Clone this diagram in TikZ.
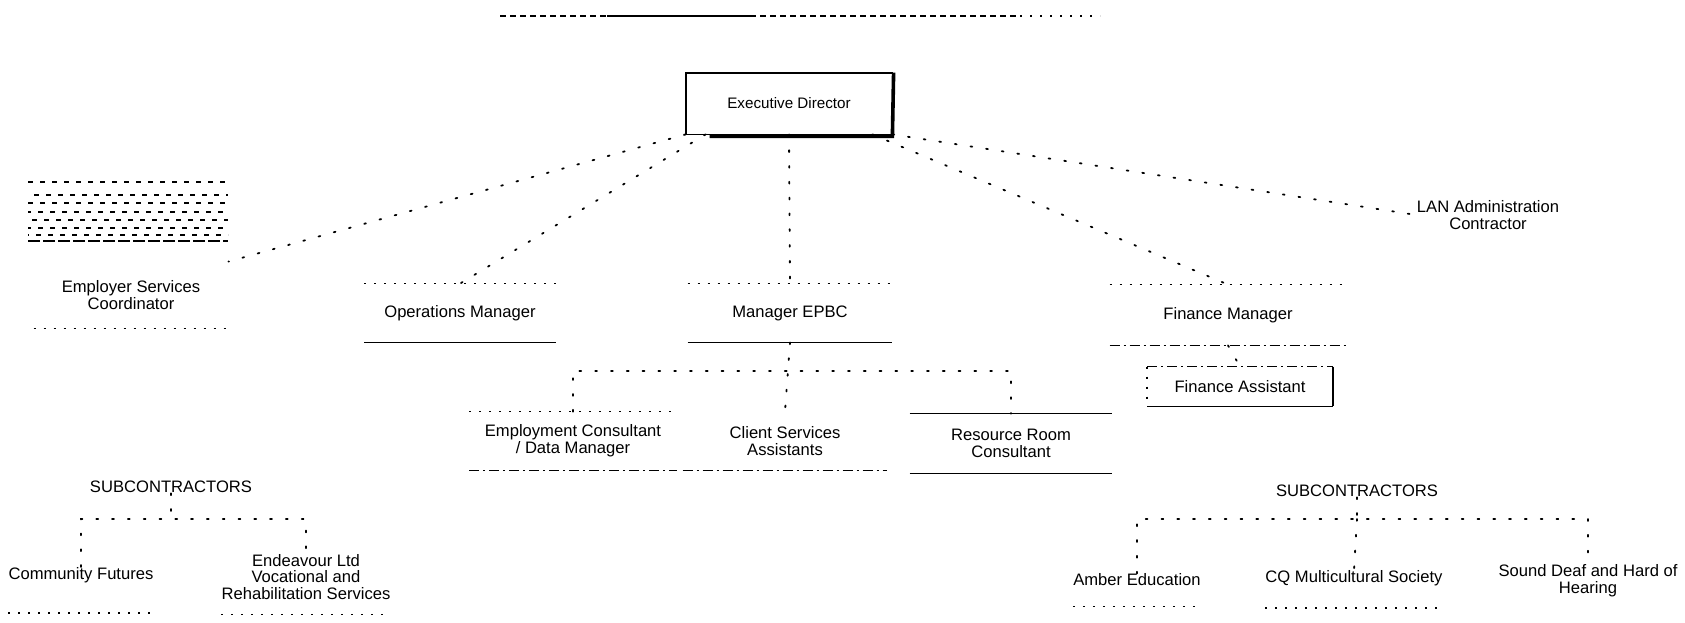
\documentclass[tikz,border=0pt]{standalone}
\usepackage{fontspec}
\setmainfont{Liberation Sans}
\begin{document}
\begin{tikzpicture}[x=0.5pt,y=-0.5pt,
  lbl/.style={font=\fontsize{8.3}{8.4}\selectfont, align=center, inner sep=0pt},
  conn/.style={line width=0.9pt, dash pattern=on 0.9pt off 7pt, line cap=round},
  dotrule/.style={line width=0.8pt, dash pattern=on 1pt off 4pt},
  dashrule/.style={line width=0.7pt, dash pattern=on 5pt off 2pt on 1pt off 2pt},
  rule/.style={line width=0.7pt}
]
\useasboundingbox (0,0) rectangle (1685,622);

% title remnant
\draw[line width=0.8pt, dash pattern=on 3pt off 2pt] (500,16) -- (1020,16);
\draw[line width=0.9pt] (607,16) -- (751,16);
\draw[dotrule] (1020,16) -- (1100,16);

% top-left garbled note block
\foreach \yy/\ph in {182/0,195/3,203/6,212/1,220/4,228/7,235/2}
  \draw[line width=0.9pt, dash pattern=on 2.5pt off 3.5pt, dash phase=\ph pt] (28,\yy) -- (228,\yy);
\draw[line width=1.1pt, dash pattern=on 6pt off 1.5pt] (28,241) -- (228,241);

% nodes
\node[lbl, font=\fontsize{7.6}{8}\selectfont, minimum width=103pt, minimum height=30.5pt] (exec) at (789,103.5) {Executive Director};
\node[lbl, minimum width=97pt, minimum height=33pt] (emps) at (131,295) {Employer Services\\Coordinator};
\node[lbl, minimum width=95.5pt, minimum height=29pt] (ops) at (460,313) {Operations Manager};
\node[lbl, minimum width=102pt, minimum height=29pt] (epbc) at (790,313) {Manager EPBC};
\node[lbl, minimum width=118pt, minimum height=30pt] (finman) at (1228,315) {Finance Manager};
\node[lbl, minimum width=92.5pt, minimum height=19.5pt] (finasst) at (1240,386.5) {Finance Assistant};
\node[lbl] (lan) at (1488,215) {LAN Administration\\Contractor};
\node[lbl, minimum width=103.5pt, minimum height=29pt] (empcons) at (573,441) {Employment Consultant\\/ Data Manager};
\node[lbl, minimum width=102pt, minimum height=29pt] (client) at (785,441) {Client Services\\Assistants};
\node[lbl, minimum width=101pt, minimum height=29.5pt] (resroom) at (1011,443.5) {Resource Room\\Consultant};
\node[lbl] (subl) at (171,487) {SUBCONTRACTORS};
\node[lbl] (subr) at (1357,491) {SUBCONTRACTORS};
\node[lbl] (commfut) at (81,575) {Community Futures};
\node[lbl] (voc) at (306,577) {Endeavour Ltd\\Vocational and\\Rehabilitation Services};
\node[lbl] (amber) at (1137,580) {Amber Education};
\node[lbl] (cq) at (1354,578) {CQ Multicultural Society};
\node[lbl] (deaf) at (1588,581) {Sound Deaf and Hard of\\Hearing};

% box outlines
\draw[line width=0.9pt] (exec.north west) rectangle (exec.south east);
\draw[line width=1.8pt] ([xshift=12pt,yshift=-0.9pt]exec.south west) -- ([yshift=-0.9pt]exec.south east) -- ([xshift=0.6pt]exec.north east);
\draw[dashrule] (finasst.north west) -- (finasst.north east);
\draw[rule] (finasst.south west) -- (finasst.south east);
\draw[line width=1.4pt] (finasst.north east) -- (finasst.south east);
\draw[dotrule] (finasst.north west) -- (finasst.south west);

% rules above/below labels
\draw[dotrule] (emps.south west) -- (emps.south east);
\draw[dotrule] (ops.north west) -- (ops.north east);
\draw[rule] (ops.south west) -- (ops.south east);
\draw[dotrule] (epbc.north west) -- (epbc.north east);
\draw[rule] (epbc.south west) -- (epbc.south east);
\draw[dotrule] (finman.north west) -- (finman.north east);
\draw[dashrule] (finman.south west) -- (finman.south east);
\draw[dotrule] (empcons.north west) -- (empcons.north east);
\draw[dashrule] (empcons.south west) -- (empcons.south east);
\draw[dashrule] (client.south west) -- (client.south east);
\draw[rule] (resroom.north west) -- (resroom.north east);
\draw[rule] (resroom.south west) -- (resroom.south east);
\draw[dotrule] ([yshift=-15pt]commfut.south west) -- ([yshift=-15pt]commfut.south east);
\draw[dotrule] ([yshift=-7pt]voc.south west) -- ([yshift=-7pt]voc.south east);
\draw[dotrule] ([yshift=-10pt]amber.south west) -- ([yshift=-10pt]amber.south east);
\draw[dotrule] ([yshift=-11pt]cq.south west) -- ([yshift=-11pt]cq.south east);

% connectors
\draw[conn] (exec.south west) -- (emps.north east);
\draw[conn] ([xshift=10pt]exec.south west) -- (ops.north);
\draw[conn] (exec.south) -- (epbc.north);
\draw[conn] ([xshift=-10pt]exec.south east) -- (finman.north);
\draw[conn] (exec.south east) -- (lan.west);
\draw[conn] (epbc.south) -- (client.north);
\draw[conn] (empcons.north) -- ++(0,-41) -| (resroom.north);
\draw[conn] (finman.south) -- (finasst.north);
\coordinate (bl) at (171,519);
\coordinate (br) at (1357,519);
\draw[conn] (subl.south) -- (bl);
\draw[conn] (commfut.north) |- (bl) -| (voc.north);
\draw[conn] (subr.south) -- (br);
\draw[conn] (amber.north) |- (br) -| (deaf.north);
\draw[conn] (br) -- (cq.north);
\end{tikzpicture}
\end{document}
